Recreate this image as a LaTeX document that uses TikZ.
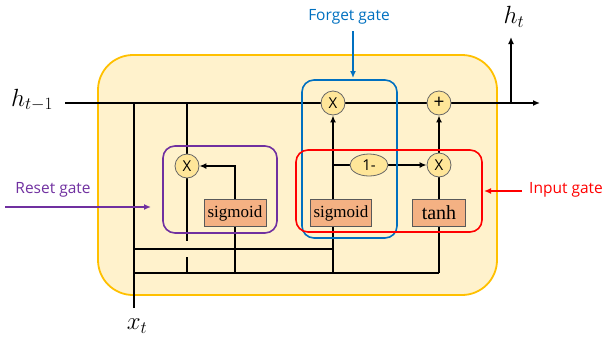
\documentclass[tikz,border=0pt]{standalone}
\usepackage{fontspec}
\usepackage{amsmath}
\usetikzlibrary{arrows.meta,shapes.geometric,backgrounds}
\newfontfamily\gatefont{Open Sans}
\newfontfamily\actfont{Liberation Serif}
\definecolor{cellfill}{HTML}{FFF2CC}
\definecolor{cellline}{HTML}{FFC000}
\definecolor{opfill}{HTML}{FFE699}
\definecolor{actfill}{HTML}{F4B183}
\definecolor{resetcol}{HTML}{7030A0}
\definecolor{forgetcol}{HTML}{0070C0}
\definecolor{inputcol}{HTML}{FF0000}
\tikzset{
  wire/.style={line width=1.6pt},
  tip/.style={-{Latex[length=7pt,width=6pt]}},
  op/.style={circle, draw=black!60, line width=0.8pt, fill=opfill, minimum size=24pt, inner sep=0pt,
    font=\gatefont\fontsize{15}{17}\selectfont},
  act/.style={rectangle, draw=black!65, line width=0.8pt, fill=actfill, minimum height=27pt, inner sep=0pt},
  gatebox/.style={line width=1.6pt, rounded corners=12pt},
  gatelabel/.style={font=\gatefont\fontsize{15.5}{18}\selectfont, inner sep=1pt},
  mathlabel/.style={font=\fontsize{24}{28}\selectfont, inner sep=0pt}
}
\begin{document}
\begin{tikzpicture}[x=1pt,y=-1pt]
        \useasboundingbox (0,0) rectangle (603,341);

        % operations and activations
        \node[op] at (187,166) (rx) {X};
        \node[op] at (333,103) (fx) {X};
        \node[op, font=\gatefont\fontsize{19}{21}\selectfont] at (439,103) (plus) {+};
        \node[op] at (439,165) (ix) {X};
        \node[op, ellipse, minimum width=38pt, minimum height=22pt] at (369,165) (inv) {1-};
        \node[act, minimum width=62pt, font=\actfont\fontsize{17}{19}\selectfont] at (235,213) (rsig) {sigmoid};
        \node[act, minimum width=61pt, font=\actfont\fontsize{17}{19}\selectfont] at (341,213) (fsig) {sigmoid};
        \node[act, minimum width=53pt, font=\actfont\fontsize{20}{22}\selectfont] at (439,213) (tanh) {tanh};

        % inputs and outputs
        \node[mathlabel] at (32,100) (hprev) {$h_{t-1}$};
        \node[mathlabel] at (514,17) (hnext) {$h_t$};
        \node[mathlabel] at (137,326) (xin) {$x_t$};
        \coordinate (hstart) at (65,103);
        \coordinate (hend) at (540,103);
        \coordinate (hsplit) at (511,103);
        \coordinate (htop) at (511,37);
        \coordinate (xbot) at (134,308);
        \coordinate (xtop) at (134,103);

        % buses from x_t
        \coordinate (busa) at (134,249);
        \coordinate (busb) at (134,273);
        \coordinate (rtop) at (187,103);
        \coordinate (rgap) at (187,241);
        \coordinate (rlow) at (187,257);
        \coordinate (rbus) at (187,273);
        \coordinate (rsbus) at (235,273);
        \coordinate (fbusa) at (333,249);
        \coordinate (fbus) at (333,273);
        \coordinate (fbranch) at (333,165);
        \coordinate (tbus) at (439,273);

        \begin{pgfonlayer}{background}
        \draw[cellline, fill=cellfill, line width=1.8pt, rounded corners=35pt] (98,55) rectangle (497,295);
        \draw[wire, tip] (hstart) -- (hend);
        \draw[wire, tip] (hsplit) -- (htop);
        \draw[wire] (xbot) -- (xtop);
        \draw[wire] (busa) -- (fbusa);
        \draw[wire] (busb) -- (tbus);
        \draw[wire] (rtop) -- (rx);
        \draw[wire] (rx) -- (rgap);
        \draw[wire] (rlow) -- (rbus);
        \draw[wire, tip] (rsbus) |- (rx.east);
        \draw[wire, tip] (fbus) -- (fx.south);
        \draw[wire] (fbranch) -- (inv.west);
        \draw[wire, tip] (inv) -- (ix);
        \draw[wire] (tbus) -- (ix.south);
        \draw[wire, tip] (ix) -- (plus);
        \end{pgfonlayer}

        % gates
        \draw[gatebox, resetcol] (163,146) rectangle (277,233);
        \draw[gatebox, forgetcol] (302,80) rectangle (397,238);
        \draw[gatebox, inputcol] (296,150) rectangle (482,232);

        \node[gatelabel, text=forgetcol] at (349,17) (flabel) {Forget gate};
        \node[gatelabel, text=resetcol] at (53,190) (rlabel) {Reset gate};
        \node[gatelabel, text=inputcol, anchor=west] at (528,190) (ilabel) {Input gate};
        \coordinate (ftip) at (353,78);
        \coordinate (fstart) at (353,31);
        \coordinate (rstart) at (5,207);
        \coordinate (rtip) at (151,207);
        \coordinate (istart) at (522,191);
        \coordinate (itip) at (484,191);
        \draw[wire, forgetcol, tip] (fstart) -- (ftip);
        \draw[wire, resetcol, tip] (rstart) -- (rtip);
        \draw[wire, inputcol, tip] (istart) -- (itip);
    \end{tikzpicture}
\end{document}
